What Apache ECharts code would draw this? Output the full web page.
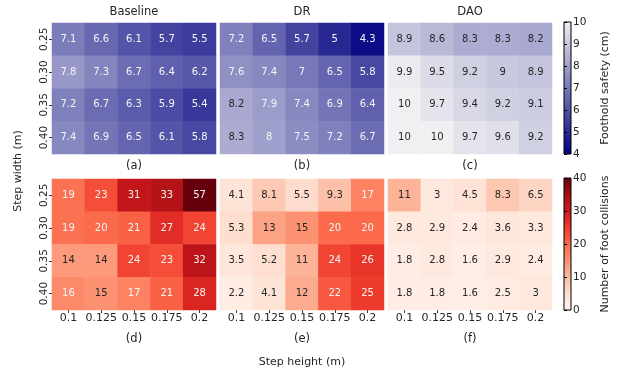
<!DOCTYPE html>
<html>
<head>
<meta charset="utf-8">
<script src="https://cdn.jsdelivr.net/npm/echarts@6/dist/echarts.min.js"></script>
<style>html,body{margin:0;padding:0;background:#fff}#c{width:622px;height:375px}</style>
</head>
<body>
<div id="c"></div>
<script>
// ---- data ----
const stepHeights = ['0.1', '0.125', '0.15', '0.175', '0.2'];
const stepWidths = ['0.25', '0.30', '0.35', '0.40'];
const methods = ['Baseline', 'DR', 'DAO'];
const topLetters = ['(a)', '(b)', '(c)'];
const bottomLetters = ['(d)', '(e)', '(f)'];

const safetyBaseline = [
  [7.1, 6.6, 6.1, 5.7, 5.5],
  [7.8, 7.3, 6.7, 6.4, 6.2],
  [7.2, 6.7, 6.3, 5.9, 5.4],
  [7.4, 6.9, 6.5, 6.1, 5.8]
];
const safetyDR = [
  [7.2, 6.5, 5.7, 5, 4.3],
  [7.6, 7.4, 7, 6.5, 5.8],
  [8.2, 7.9, 7.4, 6.9, 6.4],
  [8.3, 8, 7.5, 7.2, 6.7]
];
const safetyDAO = [
  [8.9, 8.6, 8.3, 8.3, 8.2],
  [9.9, 9.5, 9.2, 9, 8.9],
  [10, 9.7, 9.4, 9.2, 9.1],
  [10, 10, 9.7, 9.6, 9.2]
];
const collBaseline = [
  [19, 23, 31, 33, 57],
  [19, 20, 21, 27, 24],
  [14, 14, 24, 23, 32],
  [16, 15, 17, 21, 28]
];
const collDR = [
  [4.1, 8.1, 5.5, 9.3, 17],
  [5.3, 13, 15, 20, 20],
  [3.5, 5.2, 11, 24, 26],
  [2.2, 4.1, 12, 22, 25]
];
const collDAO = [
  [11, 3, 4.5, 8.3, 6.5],
  [2.8, 2.9, 2.4, 3.6, 3.3],
  [1.8, 2.8, 1.6, 2.9, 2.4],
  [1.8, 1.8, 1.6, 2.5, 3]
];
const safetyTicks = [4, 5, 6, 7, 8, 9, 10];
const collisionTicks = [0, 10, 20, 30, 40];

// ---- colormaps ----
const safetyStops = ['#000080', '#f0f0f2'];
const redsStops = ['#fff5f0', '#fee0d2', '#fcbba1', '#fc9272', '#fb6a4a', '#ef3b2c', '#cb181d', '#a50f15', '#67000d'];

function hexToRgb(h) { return [parseInt(h.slice(1, 3), 16), parseInt(h.slice(3, 5), 16), parseInt(h.slice(5, 7), 16)]; }
function cmap(stops, vmin, vmax, v) {
  let t = (v - vmin) / (vmax - vmin);
  t = Math.max(0, Math.min(1, t));
  const n = stops.length - 1;
  const i = Math.min(n - 1, Math.floor(t * n));
  const f = t * n - i;
  const a = hexToRgb(stops[i]), b = hexToRgb(stops[i + 1]);
  return [0, 1, 2].map(k => Math.round(a[k] + (b[k] - a[k]) * f));
}
function lum(rgb) {
  const c = rgb.map(x => { x /= 255; return x <= 0.03928 ? x / 12.92 : Math.pow((x + 0.055) / 1.055, 2.4); });
  return 0.2126 * c[0] + 0.7152 * c[1] + 0.0722 * c[2];
}
function rgbStr(c) { return 'rgb(' + c.join(',') + ')'; }

function buildData(mat, stops, vmin, vmax) {
  const out = [];
  mat.forEach((row, yi) => row.forEach((v, xi) => {
    const c = cmap(stops, vmin, vmax, v);
    out.push({
      value: [xi, yi, v],
      itemStyle: { color: rgbStr(c) },
      label: { color: lum(c) > 0.408 ? '#262626' : '#f4f4f4' }
    });
  }));
  return out;
}
function gradient(stops) {
  const s = stops.slice().reverse();
  return new echarts.graphic.LinearGradient(0, 0, 0, 1,
    s.map((c, i) => ({ offset: i / (s.length - 1), color: c })));
}

const FONT = 'DejaVu Sans';
const TXT = '#262626';
const panelLefts = [52, 220, 388];
const panelW = 164, panelH = 131;
const rowTops = [23, 179];

const grids = [], xAxes = [], yAxes = [], series = [];
const mats = [[safetyBaseline, safetyDR, safetyDAO], [collBaseline, collDR, collDAO]];
for (let r = 0; r < 2; r++) {
  for (let c = 0; c < 3; c++) {
    const idx = grids.length;
    grids.push({ left: panelLefts[c], top: rowTops[r], width: panelW, height: panelH });
    xAxes.push({
      type: 'category', gridIndex: idx, data: stepHeights, position: 'bottom',
      axisLine: { show: false },
      axisTick: { show: r === 1, alignWithLabel: true, length: 3, interval: 0, lineStyle: { color: '#333' } },
      axisLabel: { show: r === 1, interval: 0, hideOverlap: false, fontSize: 11, fontFamily: FONT, color: TXT, margin: 3 },
      splitLine: { show: false }
    });
    yAxes.push({
      type: 'category', gridIndex: idx, data: stepWidths, inverse: true,
      axisLine: { show: false },
      axisTick: { show: c === 0, alignWithLabel: true, length: 3, interval: 0, lineStyle: { color: '#333' } },
      axisLabel: { show: c === 0, interval: 0, rotate: 90, fontSize: 10.5, fontFamily: FONT, color: TXT, margin: 2 },
      splitLine: { show: false }
    });
    const stops = r === 0 ? safetyStops : redsStops;
    const vmin = r === 0 ? 4 : 0, vmax = r === 0 ? 10 : 40;
    series.push({
      type: 'heatmap', xAxisIndex: idx, yAxisIndex: idx,
      data: buildData(mats[r][c], stops, vmin, vmax),
      label: { show: true, fontSize: 10, fontFamily: FONT, formatter: p => String(p.value[2]) },
      itemStyle: { borderWidth: 0 },
      emphasis: { disabled: true }
    });
  }
}
// colorbars
const cbInfo = [
  { top: 22, stops: safetyStops, min: 4, max: 10, ticks: safetyTicks, name: 'Foothold safety (cm)' },
  { top: 178, stops: redsStops, min: 0, max: 40, ticks: collisionTicks, name: 'Number of foot collisions' }
];
cbInfo.forEach(cb => {
  const idx = grids.length;
  grids.push({ left: 564, top: cb.top, width: 7, height: 132, show: true, backgroundColor: gradient(cb.stops), borderColor: '#000', borderWidth: 1 });
  xAxes.push({ type: 'value', gridIndex: idx, show: false, min: 0, max: 1 });
  yAxes.push({
    type: 'value', gridIndex: idx, position: 'right', min: cb.min, max: cb.max,
    interval: cb.ticks[1] - cb.ticks[0],
    axisLine: { show: false },
    axisTick: { show: true, length: 3, lineStyle: { color: '#000' } },
    axisLabel: { fontSize: 10.5, fontFamily: FONT, color: TXT, margin: 2 },
    splitLine: { show: false },
    name: cb.name, nameLocation: 'middle', nameRotate: 90, nameGap: 29,
    nameTextStyle: { fontSize: 11, fontFamily: FONT, color: TXT }
  });
});

const titles = [];
const tStyle = { fontSize: 11.5, fontWeight: 'normal', fontFamily: FONT, color: TXT };
methods.forEach((m, c) => {
  const cx = panelLefts[c] + panelW / 2;
  titles.push({ text: m, left: cx, top: 6, textAlign: 'center', textStyle: tStyle });
  titles.push({ text: topLetters[c], left: cx, top: 160, textAlign: 'center', textStyle: tStyle });
  titles.push({ text: bottomLetters[c], left: cx, top: 333, textAlign: 'center', textStyle: tStyle });
});
titles.push({ text: 'Step height (m)', left: 302, top: 357, textAlign: 'center',
  textStyle: { fontSize: 11, fontWeight: 'normal', fontFamily: FONT, color: TXT } });
titles.forEach(t => { t.padding = 0; });

const chart = echarts.init(document.getElementById('c'), null, { renderer: 'canvas' });
chart.setOption({
  animation: false,
  backgroundColor: '#fff',
  title: titles,
  grid: grids,
  xAxis: xAxes,
  yAxis: yAxes,
  series: series,
  graphic: [{
    type: 'text', x: 18, y: 171, rotation: Math.PI / 2,
    style: { text: 'Step width (m)', fontSize: 11, fontFamily: FONT, fill: TXT, align: 'center', verticalAlign: 'middle' }
  }]
});
</script>
</body>
</html>
